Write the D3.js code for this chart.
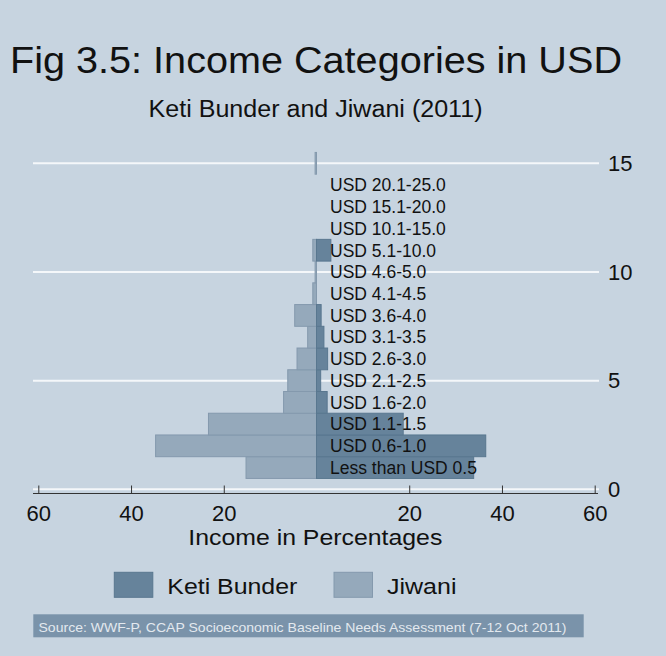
<!DOCTYPE html>
<html lang="en">
<head>
    <meta charset="UTF-8">
    <title>Income Categories</title>
    <script src="https://d3js.org/d3.v7.min.js"></script>
    <style>
        body {margin: 0; background: #c7d4e0;}
        text {font-family: "Liberation Sans", Arial, sans-serif; fill: #111;}
    </style>
</head>
<body>
<script>
    const width  = 666;
    const height = 656;

    // rows from bottom (1) to top (15); the top row has no label
    const categories = ["Less than USD 0.5", "USD 0.6-1.0", "USD 1.1-1.5", "USD 1.6-2.0",
        "USD 2.1-2.5", "USD 2.6-3.0", "USD 3.1-3.5", "USD 3.6-4.0", "USD 4.1-4.5",
        "USD 4.6-5.0", "USD 5.1-10.0", "USD 10.1-15.0", "USD 15.1-20.0", "USD 20.1-25.0", ""];
    const ketiBunder = [33.9, 36.5, 18.7, 2.3, 0.9, 2.4, 1.6, 1.0, 0, 0, 3.1, 0, 0, 0, 0];
    const jiwani     = [15.2, 34.7, 23.3, 7.1, 6.2, 4.2, 1.9, 4.7, 0.8, 0.3, 0.8, 0, 0, 0, 0.3];
    const xTicks = [-60, -40, -20, 20, 40, 60];
    const yTicks = [0, 5, 10, 15];

    const colKeti = "#66839b", colJiwani = "#95a9bb";

    const scaleX = d3.scaleLinear().domain([-60, 60]).range([38.3, 594.7]);
    const scaleY = d3.scaleLinear().domain([0, 15]).range([489.3, 163.3]);

    const svg = d3.select("body").append("svg").attr("width", width).attr("height", height);
    svg.append("rect").attr("width", width).attr("height", height).attr("fill", "#c7d4e0");

    // gridlines
    svg.append("g").selectAll("line").data(yTicks).join("line")
        .attr("x1", 33).attr("x2", 599)
        .attr("y1", d => scaleY(d)).attr("y2", d => scaleY(d))
        .attr("stroke", "#f4f7fa").attr("stroke-width", 2);

    const rows = categories.map((c, i) => ({cat: c, pos: i + 1, k: ketiBunder[i], j: jiwani[i]}));

    // Jiwani to the left, Keti Bunder to the right
    svg.append("g").selectAll("rect").data(rows.filter(d => d.j > 0)).join("rect")
        .attr("x", d => scaleX(-d.j)).attr("width", d => scaleX(0) - scaleX(-d.j))
        .attr("y", d => scaleY(d.pos + 0.5)).attr("height", d => scaleY(d.pos - 0.5) - scaleY(d.pos + 0.5))
        .attr("fill", colJiwani).attr("stroke", "#8499ad").attr("stroke-width", 1);
    svg.append("g").selectAll("rect").data(rows.filter(d => d.k > 0)).join("rect")
        .attr("x", scaleX(0)).attr("width", d => scaleX(d.k) - scaleX(0))
        .attr("y", d => scaleY(d.pos + 0.5)).attr("height", d => scaleY(d.pos - 0.5) - scaleY(d.pos + 0.5))
        .attr("fill", colKeti).attr("stroke", "#59778f").attr("stroke-width", 1);

    // category labels
    svg.append("g").selectAll("text").data(rows).join("text")
        .attr("x", 330).attr("y", d => scaleY(d.pos)).attr("dy", "0.36em")
        .attr("font-size", 17.5).text(d => d.cat);

    // x axis
    const xAxis = d3.axisBottom(scaleX).tickValues(xTicks).tickFormat(d => Math.abs(d))
        .tickSizeInner(-8).tickSizeOuter(0).tickPadding(12);
    const gx = svg.append("g").attr("transform", "translate(0,493.5)").call(xAxis);
    gx.select(".domain").attr("d", "M33,0H598").attr("stroke", "#333");
    gx.selectAll(".tick line").attr("stroke", "#333");
    gx.selectAll(".tick text").attr("font-size", 22).attr("font-family", null).attr("fill", "#111");
    gx.attr("font-family", null);

    // y axis on the right
    const yAxis = d3.axisRight(scaleY).tickValues(yTicks).tickSize(0).tickPadding(9);
    const gy = svg.append("g").attr("transform", "translate(599,0)").call(yAxis);
    gy.select(".domain").remove();
    gy.selectAll(".tick text").attr("font-size", 22).attr("fill", "#111");
    gy.attr("font-family", null);

    // titles
    svg.append("text").attr("x", 10).attr("y", 72.7).attr("font-size", 37)
        .attr("textLength", 612).attr("lengthAdjust", "spacingAndGlyphs")
        .text("Fig 3.5: Income Categories in USD");
    svg.append("text").attr("x", 148.5).attr("y", 117.3).attr("font-size", 23)
        .attr("textLength", 334).attr("lengthAdjust", "spacingAndGlyphs")
        .text("Keti Bunder and Jiwani (2011)");
    svg.append("text").attr("x", 315.3).attr("y", 545).attr("font-size", 21.5)
        .attr("text-anchor", "middle")
        .attr("textLength", 254).attr("lengthAdjust", "spacingAndGlyphs")
        .text("Income in Percentages");

    // legend
    const legend = [
        {name: "Keti Bunder", color: colKeti, stroke: "#59778f", x: 114.3, w: 130},
        {name: "Jiwani", color: colJiwani, stroke: "#8499ad", x: 334, w: 69.5}
    ];
    const lg = svg.append("g").selectAll("g").data(legend).join("g")
        .attr("transform", d => "translate(" + [d.x, 572.3] + ")");
    lg.append("rect").attr("width", 38.5).attr("height", 25)
        .attr("fill", d => d.color).attr("stroke", d => d.stroke);
    lg.append("text").attr("x", 53).attr("y", 22).attr("font-size", 21.5)
        .attr("textLength", d => d.w).attr("lengthAdjust", "spacingAndGlyphs")
        .text(d => d.name);

    // source note
    svg.append("rect").attr("x", 33.3).attr("y", 614.3).attr("width", 550.4).attr("height", 23)
        .attr("fill", "#7a93aa");
    svg.append("text").attr("x", 38.5).attr("y", 632).attr("font-size", 13)
        .attr("textLength", 528).attr("lengthAdjust", "spacingAndGlyphs")
        .style("fill", "#e3e9ef")
        .text("Source: WWF-P, CCAP Socioeconomic Baseline Needs Assessment (7-12 Oct 2011)");
</script>
</body>
</html>
